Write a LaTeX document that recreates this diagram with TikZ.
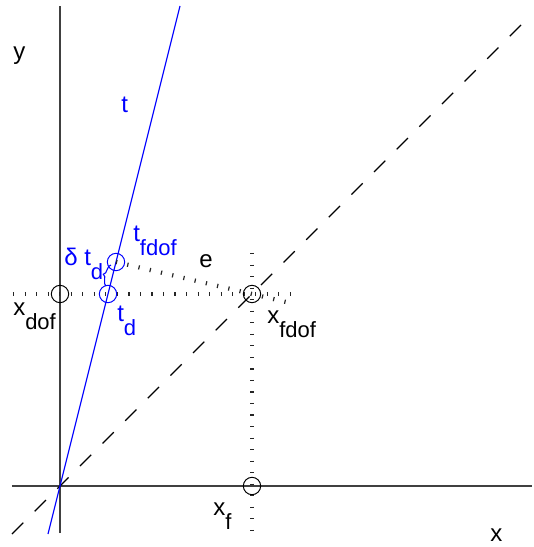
\documentclass[tikz,border=0pt]{standalone}
\usepackage{fontspec}
\setmainfont{Liberation Sans}
\usetikzlibrary{positioning, calc, decorations.pathreplacing}

\newcommand{\lowsub}[1]{\raisebox{-10.5pt}{\fontsize{16.5}{18}\selectfont #1}}

\begin{document}
\begin{tikzpicture}[
    x=0.75pt, y=0.75pt,
    axis/.style={line width=1.1pt, draw=black!75},
    ring/.style={circle, draw, line width=0.75pt, minimum size=13pt, inner sep=0pt},
    dotline/.style={line width=3.2pt, dash pattern=on 0.9pt off 7.75pt, draw=black!85},
    diag/.style={line width=0.8pt, dash pattern=on 12pt off 12pt},
    tline/.style={line width=0.9pt, draw=blue},
    lbl/.style={font=\fontsize{18}{20}\selectfont, inner sep=0pt, anchor=base west}
]
    \useasboundingbox (-60,-61) rectangle (473,486);

    % Axes
    \coordinate (O) at (0,0);
    \coordinate (xl) at (-48,0);
    \coordinate (xr) at (472,0);
    \coordinate (yb) at (0,-47);
    \coordinate (yt) at (0,480);
    \draw[axis] (xl) -- (xr);
    \draw[axis] (yb) -- (yt);

    % Diagonal x = y
    \coordinate (db) at (-48,-48);
    \coordinate (dt) at (466,466);
    \draw[diag] (db) -- (dt);

    % Line t
    \coordinate (tb) at (-12,-48);
    \coordinate (tt) at (120,480);
    \draw[tline] (tb) -- (tt);

    % Points
    \node[ring] (xdof) at (0,192) {};
    \node[ring, draw=blue] (td) at (48,192) {};
    \node[ring, draw=blue] (tf) at (56,224) {};
    \node[ring] (xfd) at (192,192) {};
    \node[ring] (xf) at (192,0) {};

    % Dotted guides
    \coordinate (hl) at (-47,192);
    \coordinate (hr) at (234,192);
    \coordinate (vb) at (192,-47);
    \coordinate (vt) at (192,233);
    \draw[dotline] (hl) -- (hr);
    \draw[dotline] (vt) -- (vb);
    \draw[dotline] (tf.center) -- ($(tf.center)!1.32!(xfd.center)$);

    % Brace between t_d and t_fdof
    \draw[blue, line width=0.8pt, decorate, decoration={brace, amplitude=4pt}]
        ($(td.center)+(-2,8)$) -- ($(tf.center)+(-5,-3)$);

    % Labels
    \node[lbl] (ly) at (-47,426) {y};
    \node[lbl, text=blue] (lt) at (61,373) {t};
    \node[lbl, text=blue] (ltf) at (73,244) {t\lowsub{fdof}};
    \node[lbl] (le) at (139,218) {e};
    \node[lbl, text=blue] (ldt) at (4,220) {δ t\lowsub{d}};
    \node[lbl] (lxdof) at (-47,171) {x\lowsub{dof}};
    \node[lbl, text=blue] (ltd) at (57,164) {t\lowsub{d}};
    \node[lbl] (lxfd) at (207,162) {x\lowsub{fdof}};
    \node[lbl] (lxf) at (153,-29) {x\lowsub{f}};
    \node[lbl] (lx) at (430,-55) {x};
\end{tikzpicture}
\end{document}
